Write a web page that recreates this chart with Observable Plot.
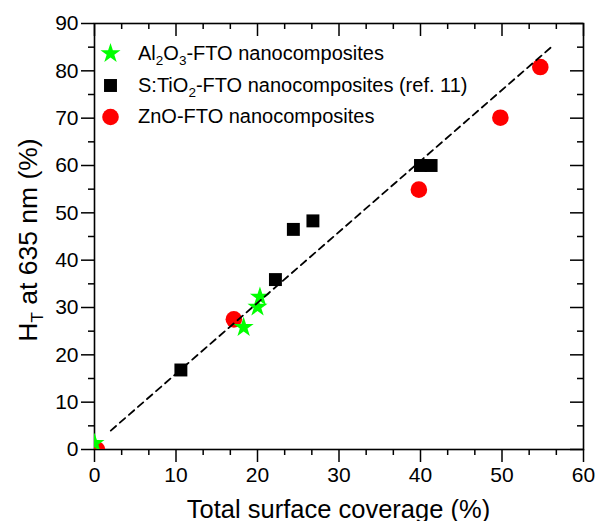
<!DOCTYPE html>
<html>
<head>
<meta charset="utf-8">
<script src="https://cdn.jsdelivr.net/npm/d3@7"></script>
<script src="https://cdn.jsdelivr.net/npm/@observablehq/plot@0.6"></script>
<style>
  html, body { margin: 0; padding: 0; background: #fff; }
  #chart svg { display: block; }
</style>
</head>
<body>
<div id="chart"></div>
<script>
// Al2O3-FTO nanocomposites
const aluminaX = [0, 18.3, 20.0, 20.3];
const aluminaY = [1.3, 25.8, 30.1, 32.2];

// S:TiO2-FTO nanocomposites (ref. 11)
const titaniaX = [10.6, 22.2, 24.4, 26.8, 40.0, 41.3];
const titaniaY = [16.8, 35.9, 46.5, 48.3, 60.0, 60.0];

// ZnO-FTO nanocomposites
const zincX = [0.3, 17.1, 39.8, 49.8, 54.7];
const zincY = [0.0, 27.5, 54.9, 70.1, 80.8];

// Linear guide through the data
const fitX = [2.0, 56.3];
const fitY = [4.0, 85.4];

// Axis ticks
const xTicks = [0, 10, 20, 30, 40, 50, 60];
const yTicks = [0, 10, 20, 30, 40, 50, 60, 70, 80, 90];
const xMinor = d3.range(0, 60, 10 / 3).filter((_, i) => i % 3 !== 0);
const yMinor = d3.range(5, 90, 10);

const seriesNames = [
  ["Al", ["2", "sub"], "O", ["3", "sub"], "-FTO nanocomposites"],
  ["S:TiO", ["2", "sub"], "-FTO nanocomposites (ref. 11)"],
  ["ZnO-FTO nanocomposites"]
];

const rows = (xs, ys) => xs.map((x, i) => ({x, y: ys[i]}));

const W = 595, H = 521;
const margin = {top: 23, right: 12, bottom: 72, left: 94};
const innerW = W - margin.left - margin.right;
const innerH = H - margin.top - margin.bottom;

const GREEN = "#00ff00", RED = "#ff0000", BLACK = "#000000";
const FONT = "'Liberation Sans', Arial, Helvetica, sans-serif";

const svg = Plot.plot({
  width: W,
  height: H,
  marginTop: margin.top,
  marginRight: margin.right,
  marginBottom: margin.bottom,
  marginLeft: margin.left,
  style: {fontFamily: FONT, color: "black", background: "white", overflow: "visible"},
  x: {domain: [0, 60]},
  y: {domain: [0, 90]},
  marks: [
    // outward ticks on bottom and left
    Plot.axisX(xTicks, {anchor: "bottom", tickSize: 13, tickPadding: 5, fontSize: 21, strokeWidth: 1.5, label: null}),
    Plot.axisX(xMinor, {anchor: "bottom", tickSize: 6, tickFormat: () => "", strokeWidth: 1.5, label: null}),
    Plot.axisY(yTicks, {anchor: "left", tickSize: 13, tickPadding: 3, fontSize: 21, strokeWidth: 1.5, label: null}),
    Plot.axisY(yMinor, {anchor: "left", tickSize: 6, tickFormat: () => "", strokeWidth: 1.5, label: null}),
    // inward ticks on top and right
    Plot.ruleX(xTicks, {x: d => d, insetBottom: innerH - 13, stroke: BLACK, strokeWidth: 1.5}),
    Plot.ruleX(xMinor, {x: d => d, insetBottom: innerH - 6, stroke: BLACK, strokeWidth: 1.5}),
    Plot.ruleY(yTicks, {y: d => d, insetLeft: innerW - 13, stroke: BLACK, strokeWidth: 1.5}),
    Plot.ruleY(yMinor, {y: d => d, insetLeft: innerW - 6, stroke: BLACK, strokeWidth: 1.5}),
    Plot.frame({stroke: BLACK, strokeWidth: 1.6}),

    // data
    Plot.dot(rows(titaniaX, titaniaY), {x: "x", y: "y", symbol: "square", r: 7.3, fill: BLACK, stroke: null, clip: true}),
    Plot.dot(rows(zincX, zincY), {x: "x", y: "y", symbol: "circle", r: 8.3, fill: RED, stroke: null, clip: true}),
    Plot.dot(rows(aluminaX, aluminaY), {x: "x", y: "y", symbol: "star", r: 6.3, fill: GREEN, stroke: null, clip: true}),
    Plot.line(rows(fitX, fitY), {x: "x", y: "y", stroke: BLACK, strokeWidth: 1.8, strokeDasharray: "7,5", clip: true}),

    // legend markers
    Plot.dot([0], {x: null, y: null, frameAnchor: "top-left", dx: 16, dy: 30, symbol: "star", r: 6.3, fill: GREEN, stroke: null}),
    Plot.dot([0], {x: null, y: null, frameAnchor: "top-left", dx: 16, dy: 62, symbol: "square", r: 7.3, fill: BLACK, stroke: null}),
    Plot.dot([0], {x: null, y: null, frameAnchor: "top-left", dx: 16, dy: 93.5, symbol: "circle", r: 8.3, fill: RED, stroke: null})
  ]
});

const root = d3.select(svg);

// legend labels (with subscripts)
seriesNames.forEach((parts, i) => {
  const t = root.append("text")
    .attr("x", margin.left + 44)
    .attr("y", margin.top + 30 + i * 31.7 + 7)
    .attr("text-anchor", "start")
    .attr("font-family", FONT)
    .attr("font-size", 20)
    .attr("fill", "black");
  let shifted = false;
  parts.forEach(p => {
    if (Array.isArray(p)) {
      t.append("tspan").attr("font-size", 13.5).attr("dy", shifted ? 0 : 5).text(p[0]);
      shifted = true;
    } else {
      t.append("tspan").attr("dy", shifted ? -5 : 0).text(p);
      shifted = false;
    }
  });
});

// x-axis title
root.append("text")
  .attr("x", margin.left + innerW / 2)
  .attr("y", 518)
  .attr("text-anchor", "middle")
  .attr("font-family", FONT)
  .attr("font-size", 25.5)
  .attr("fill", "black")
  .text("Total surface coverage (%)");

// y-axis title: H_T at 635 nm (%)
const yt = root.append("text")
  .attr("transform", `translate(37,240) rotate(-90)`)
  .attr("text-anchor", "middle")
  .attr("font-family", FONT)
  .attr("font-size", 26.5)
  .attr("fill", "black");
yt.append("tspan").text("H");
yt.append("tspan").attr("font-size", 17).attr("dy", 6).text("T");
yt.append("tspan").attr("dy", -6).text(" at 635 nm (%)");

document.getElementById("chart").appendChild(svg);
</script>
</body>
</html>
